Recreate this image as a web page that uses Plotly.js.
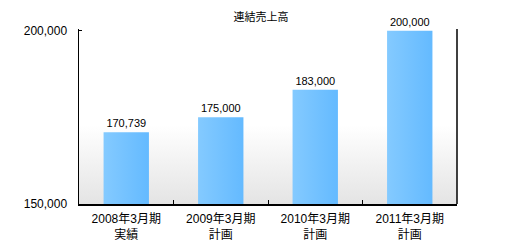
<!DOCTYPE html>
<html><head><meta charset="utf-8">
<script src="https://cdn.plot.ly/plotly-3.0.1.min.js"></script>
<style>html,body{margin:0;padding:0;background:#fff}</style>
</head><body>
<div id="chart" style="width:522px;height:244px"></div>
<script>
const categories = ["2008年3月期<br>実績", "2009年3月期<br>計画", "2010年3月期<br>計画", "2011年3月期<br>計画"];
const sales = [170739, 175000, 183000, 200000];
const salesLabels = ["170,739", "175,000", "183,000", "200,000"];
const yTickVals = [150000, 200000];
const yTickText = ["150,000", "200,000"];
const chartTitle = "連結売上高";

const font = "Liberation Sans, Arial, Noto Sans CJK JP, sans-serif";
const bgSvg = 'data:image/svg+xml;utf8,' + encodeURIComponent(
  '<svg xmlns="http://www.w3.org/2000/svg" width="100" height="100" preserveAspectRatio="none">' +
  '<defs><linearGradient id="g" x1="0" y1="0" x2="0" y2="1">' +
  '<stop offset="0" stop-color="#ffffff"/><stop offset="0.55" stop-color="#ffffff"/>' +
  '<stop offset="1" stop-color="#e4e4e4"/></linearGradient></defs>' +
  '<rect width="100" height="100" fill="url(#g)"/></svg>');

const trace = {
  type: "bar",
  x: categories,
  y: sales,
  text: salesLabels,
  textposition: "outside",
  cliponaxis: false,
  textfont: {family: font, size: 11, color: "#000"},
  marker: {color: "#73c0ff", line: {width: 0}},
  hoverinfo: "none"
};

const layout = {
  width: 522, height: 244,
  margin: {l: 79, r: 65, t: 29, b: 40},
  paper_bgcolor: "#fff",
  plot_bgcolor: "rgba(0,0,0,0)",
  showlegend: false,
  bargap: 0.52,
  title: {text: chartTitle, font: {family: font, size: 11, color: "#000"}, x: 0.5, xanchor: "center", y: 0.93, yanchor: "middle"},
  xaxis: {
    type: "category",
    showline: true, linecolor: "#000", linewidth: 1.5,
    ticks: "inside", tickson: "boundaries", ticklen: 4, tickcolor: "#000", tickwidth: 1,
    ticklabelstandoff: 3,
    tickfont: {family: font, size: 12, color: "#000"},
    showgrid: false, zeroline: false, fixedrange: true
  },
  yaxis: {
    range: [150000, 200500],
    tickvals: yTickVals, ticktext: yTickText,
    showline: true, linecolor: "#000", linewidth: 1.5,
    ticks: "inside", ticklen: 3, tickcolor: "#000",
    ticklabelstandoff: 8,
    tickfont: {family: font, size: 12, color: "#000"},
    showgrid: false, zeroline: false, fixedrange: true
  },
  shapes: [{type: "line", xref: "paper", yref: "paper", x0: 1, x1: 1, y0: 0, y1: 1, line: {color: "#000", width: 1.5}}],
  images: [{source: bgSvg, xref: "paper", yref: "paper", x: 0, y: 1, sizex: 1, sizey: 1, sizing: "stretch", layer: "below", xanchor: "left", yanchor: "top"}]
};

Plotly.newPlot("chart", [trace], layout, {displayModeBar: false, staticPlot: true}).then(function () {
  const svg = document.querySelector("#chart svg.main-svg");
  const ns = "http://www.w3.org/2000/svg";
  let defs = svg.querySelector("defs");
  const lg = document.createElementNS(ns, "linearGradient");
  lg.setAttribute("id", "barGrad");
  lg.setAttribute("x1", "0"); lg.setAttribute("y1", "0");
  lg.setAttribute("x2", "1"); lg.setAttribute("y2", "0");
  [["0", "#84caff"], ["1", "#64baff"]].forEach(function (s) {
    const st = document.createElementNS(ns, "stop");
    st.setAttribute("offset", s[0]); st.setAttribute("stop-color", s[1]);
    lg.appendChild(st);
  });
  defs.appendChild(lg);
  document.querySelectorAll("#chart .bars .point path").forEach(function (p) {
    p.style.fill = "url(#barGrad)";
  });
});
</script>
</body></html>
